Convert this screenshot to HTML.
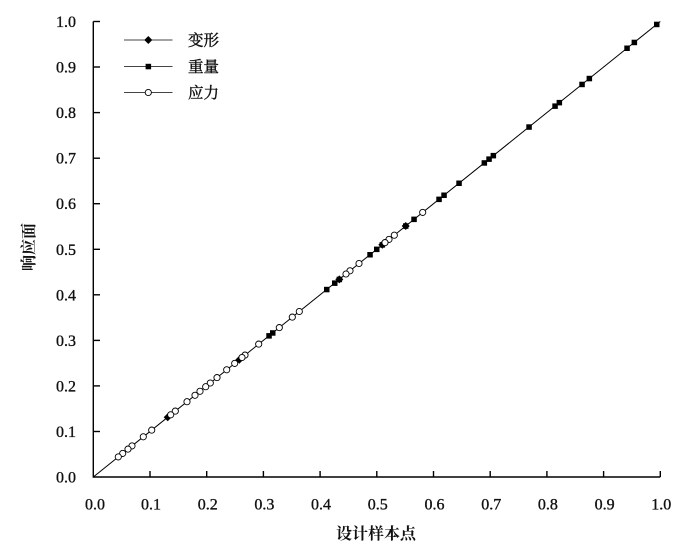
<!DOCTYPE html>
<html><head><meta charset="utf-8"><style>
html,body{margin:0;padding:0;background:#fff;}
svg{display:block;}
.num{font-family:"Liberation Serif","Noto Serif CJK SC",serif;font-size:16px;fill:#111;stroke:#111;stroke-width:0.35;}
.cjk{font-family:"Liberation Serif","Noto Serif CJK SC",serif;fill:#111;}
</style></head><body>
<svg width="700" height="553" viewBox="0 0 700 553" xmlns="http://www.w3.org/2000/svg">
<rect width="700" height="553" fill="#fff"/>
<line x1="93.3" y1="477" x2="660.3" y2="21.5" stroke="#000" stroke-width="1"/>
<g stroke="#000" stroke-width="1.4" fill="none">
<polyline points="93.3,21.5 93.3,477 660.3,477"/>
<line x1="93.3" y1="21.5" x2="100" y2="21.5"/>
<line x1="93.3" y1="67" x2="100" y2="67"/>
<line x1="93.3" y1="112.6" x2="100" y2="112.6"/>
<line x1="93.3" y1="158.2" x2="100" y2="158.2"/>
<line x1="93.3" y1="203.7" x2="100" y2="203.7"/>
<line x1="93.3" y1="249.3" x2="100" y2="249.3"/>
<line x1="93.3" y1="294.8" x2="100" y2="294.8"/>
<line x1="93.3" y1="340.4" x2="100" y2="340.4"/>
<line x1="93.3" y1="385.9" x2="100" y2="385.9"/>
<line x1="93.3" y1="431.5" x2="100" y2="431.5"/>
<line x1="150" y1="477" x2="150" y2="471"/>
<line x1="206.7" y1="477" x2="206.7" y2="471"/>
<line x1="263.4" y1="477" x2="263.4" y2="471"/>
<line x1="320.1" y1="477" x2="320.1" y2="471"/>
<line x1="376.8" y1="477" x2="376.8" y2="471"/>
<line x1="433.5" y1="477" x2="433.5" y2="471"/>
<line x1="490.2" y1="477" x2="490.2" y2="471"/>
<line x1="546.9" y1="477" x2="546.9" y2="471"/>
<line x1="603.6" y1="477" x2="603.6" y2="471"/>
<line x1="660.3" y1="477" x2="660.3" y2="471"/>
</g>
<g class="num" text-anchor="end">
<text x="76" y="27">1.0</text>
<text x="76" y="72.5">0.9</text>
<text x="76" y="118.1">0.8</text>
<text x="76" y="163.7">0.7</text>
<text x="76" y="209.2">0.6</text>
<text x="76" y="254.8">0.5</text>
<text x="76" y="300.3">0.4</text>
<text x="76" y="345.9">0.3</text>
<text x="76" y="391.4">0.2</text>
<text x="76" y="437">0.1</text>
<text x="76" y="482.5">0.0</text>
</g>
<g class="num" text-anchor="middle">
<text x="95" y="509.5">0.0</text>
<text x="151" y="509.5">0.1</text>
<text x="207.7" y="509.5">0.2</text>
<text x="264.4" y="509.5">0.3</text>
<text x="321" y="509.5">0.4</text>
<text x="377.8" y="509.5">0.5</text>
<text x="434.5" y="509.5">0.6</text>
<text x="491.2" y="509.5">0.7</text>
<text x="547.9" y="509.5">0.8</text>
<text x="604.6" y="509.5">0.9</text>
<text x="661.3" y="509.5">1.0</text>
</g>
<text class="cjk" x="376" y="539" font-size="16" font-weight="bold" text-anchor="middle">设计样本点</text>
<text class="cjk" transform="translate(34,247) rotate(-90)" font-size="16" font-weight="bold" text-anchor="middle">响应面</text>
<g fill="#000">
<rect x="654" y="21.7" width="5.5" height="5.5"/>
<rect x="631.6" y="39.7" width="5.5" height="5.5"/>
<rect x="624.3" y="45.5" width="5.5" height="5.5"/>
<rect x="586.6" y="75.8" width="5.5" height="5.5"/>
<rect x="579.3" y="81.7" width="5.5" height="5.5"/>
<rect x="556.6" y="99.9" width="5.5" height="5.5"/>
<rect x="552.3" y="103.4" width="5.5" height="5.5"/>
<rect x="526.3" y="124.3" width="5.5" height="5.5"/>
<rect x="490.6" y="152.9" width="5.5" height="5.5"/>
<rect x="486.3" y="156.4" width="5.5" height="5.5"/>
<rect x="481.6" y="160.2" width="5.5" height="5.5"/>
<rect x="456.3" y="180.5" width="5.5" height="5.5"/>
<rect x="441.3" y="192.5" width="5.5" height="5.5"/>
<rect x="436.3" y="196.6" width="5.5" height="5.5"/>
<rect x="411.3" y="216.6" width="5.5" height="5.5"/>
<rect x="403" y="223.3" width="5.5" height="5.5"/>
<rect x="379.6" y="242.1" width="5.5" height="5.5"/>
<rect x="374" y="246.6" width="5.5" height="5.5"/>
<rect x="367.3" y="252" width="5.5" height="5.5"/>
<rect x="336.6" y="276.7" width="5.5" height="5.5"/>
<rect x="332" y="280.4" width="5.5" height="5.5"/>
<rect x="324" y="286.8" width="5.5" height="5.5"/>
<rect x="270" y="330.2" width="5.5" height="5.5"/>
<rect x="266.3" y="333.1" width="5.5" height="5.5"/>
</g>
<g fill="#000">
<polygon points="239.3,355.7 243.3,359.7 239.3,363.7 235.3,359.7"/>
<polygon points="167.7,413.2 171.7,417.2 167.7,421.2 163.7,417.2"/>
<polygon points="382.3,240.8 386.3,244.8 382.3,248.8 378.3,244.8"/>
<polygon points="405.7,222 409.7,226 405.7,230 401.7,226"/>
<polygon points="339.3,275.4 343.3,279.4 339.3,283.4 335.3,279.4"/>
</g>
<g fill="#fff" stroke="#000" stroke-width="0.9">
<circle cx="422.7" cy="212.4" r="3.1"/>
<circle cx="394.3" cy="235.2" r="3.1"/>
<circle cx="389" cy="239.4" r="3.1"/>
<circle cx="385" cy="242.6" r="3.1"/>
<circle cx="359" cy="263.5" r="3.1"/>
<circle cx="350" cy="270.8" r="3.1"/>
<circle cx="346" cy="274" r="3.1"/>
<circle cx="299.3" cy="311.5" r="3.1"/>
<circle cx="292.3" cy="317.1" r="3.1"/>
<circle cx="279.3" cy="327.6" r="3.1"/>
<circle cx="258.7" cy="344.1" r="3.1"/>
<circle cx="245" cy="355.1" r="3.1"/>
<circle cx="242" cy="357.5" r="3.1"/>
<circle cx="234.7" cy="363.4" r="3.1"/>
<circle cx="226.7" cy="369.8" r="3.1"/>
<circle cx="217" cy="377.6" r="3.1"/>
<circle cx="210.3" cy="383" r="3.1"/>
<circle cx="205.7" cy="386.7" r="3.1"/>
<circle cx="200" cy="391.3" r="3.1"/>
<circle cx="195" cy="395.3" r="3.1"/>
<circle cx="187" cy="401.7" r="3.1"/>
<circle cx="175.3" cy="411.1" r="3.1"/>
<circle cx="170.7" cy="414.8" r="3.1"/>
<circle cx="151.7" cy="430.1" r="3.1"/>
<circle cx="143.3" cy="436.8" r="3.1"/>
<circle cx="132" cy="445.9" r="3.1"/>
<circle cx="128" cy="449.1" r="3.1"/>
<circle cx="122.7" cy="453.4" r="3.1"/>
<circle cx="118.3" cy="456.9" r="3.1"/>
</g>
<g stroke="#444" stroke-width="1">
<line x1="124" y1="40" x2="172.5" y2="40"/>
<line x1="124" y1="66.5" x2="172.5" y2="66.5"/>
<line x1="124" y1="92.5" x2="172.5" y2="92.5"/>
</g>
<polygon points="148.3,36 152.3,40 148.3,44 144.3,40" fill="#000"/>
<rect x="145.6" y="63.8" width="5.5" height="5.5" fill="#000"/>
<circle cx="148.3" cy="92.5" r="3.1" fill="#fff" stroke="#000" stroke-width="0.9"/>
<g class="cjk" font-size="15.5" stroke="#111" stroke-width="0.4">
<text x="188" y="45.5">变形</text>
<text x="188" y="72">重量</text>
<text x="188" y="98">应力</text>
</g>
</svg>
</body></html>
